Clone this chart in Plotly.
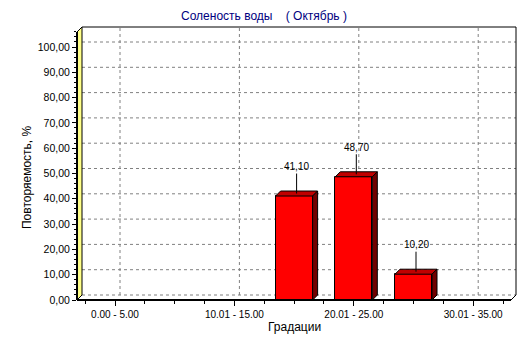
import plotly.graph_objects as go

# ---------------- data ----------------
categories = ["0.00 - 5.00", "5.01 - 10.00", "10.01 - 15.00", "15.01 - 20.00",
              "20.01 - 25.00", "25.01 - 30.00", "30.01 - 35.00"]
values = [0.0, 0.0, 0.0, 41.10, 48.70, 10.20, 0.0]
y_tick_values = [0, 10, 20, 30, 40, 50, 60, 70, 80, 90, 100]
labelled_idx = [0, 2, 4, 6]

title_text = "Соленость воды\u00a0\u00a0\u00a0\u00a0( Октябрь )"
x_title = "Градации"
y_title = "Повторяемость, %"

# ---------------- geometry / style ----------------
W, H = 532, 343
L, R, T, B = 77, 516, 27, 300      # plot area in pixels
DEPTH = 5                           # 3D depth offset in px
CAT0_PX = 115.0                     # pixel x of first category centre
CAT_W = 59.7                        # px per category
Y_PX = 2.53                         # px per y unit
BAR_W = 0.62

x_range = [(L - CAT0_PX) / CAT_W, (R - CAT0_PX) / CAT_W]
y_range = [0, (B - T) / Y_PX]
dx = DEPTH / CAT_W
dy = DEPTH / Y_PX

def pxx(px):
    return (px - L) / (R - L)

def pyy(py):
    return (B - py) / (B - T)

FONT = "Liberation Sans, Arial, sans-serif"
GRID = dict(color="#808080", width=1, dash="3px,3px")

fig = go.Figure()

xs = [i for i, v in enumerate(values) if v > 0]
vs = [v for v in values if v > 0]

fig.add_trace(go.Bar(
    x=xs, y=vs, width=BAR_W,
    marker=dict(color="#FF0000", line=dict(color="black", width=1)),
    hoverinfo="skip", showlegend=False,
))

hw = BAR_W / 2
top_x, top_y, side_x, side_y = [], [], [], []
for xc, v in zip(xs, vs):
    top_x += [xc - hw, xc + hw, xc + hw + dx, xc - hw + dx, xc - hw, None]
    top_y += [v, v, v + dy, v + dy, v, None]
    side_x += [xc + hw, xc + hw + dx, xc + hw + dx, xc + hw, xc + hw, None]
    side_y += [0, dy, v + dy, v, 0, None]

fig.add_trace(go.Scatter(x=top_x, y=top_y, mode="lines", fill="toself",
                         fillcolor="#C00000", line=dict(color="black", width=1),
                         hoverinfo="skip", showlegend=False))
fig.add_trace(go.Scatter(x=side_x, y=side_y, mode="lines", fill="toself",
                         fillcolor="#700000", line=dict(color="black", width=1),
                         hoverinfo="skip", showlegend=False))

shapes = []
# back-wall horizontal gridlines
for v in y_tick_values:
    shapes.append(dict(type="line", layer="below", xref="paper", yref="y",
                       x0=pxx(L + DEPTH), x1=1, y0=v + dy, y1=v + dy, line=GRID))
# back-wall vertical gridlines
for i in labelled_idx:
    shapes.append(dict(type="line", layer="below", xref="x", yref="paper",
                       x0=i + dx, x1=i + dx, y0=pyy(B - DEPTH), y1=1, line=GRID))
# left wall (yellow)
shapes.append(dict(type="path", layer="below", xref="paper", yref="paper",
                   path=f"M {pxx(L)},{pyy(B)} L {pxx(L)},{pyy(T + DEPTH)} "
                        f"L {pxx(L + DEPTH)},{pyy(T)} L {pxx(L + DEPTH)},{pyy(B - DEPTH)} Z",
                   fillcolor="#FFFF88", line=dict(color="black", width=1)))
# back wall top / right border
shapes.append(dict(type="path", layer="below", xref="paper", yref="paper",
                   path=f"M {pxx(L + DEPTH)},{pyy(T)} L {pxx(R)},{pyy(T)} L {pxx(R)},{pyy(B - DEPTH)}",
                   line=dict(color="black", width=1)))
# floor right diagonal
shapes.append(dict(type="line", layer="below", xref="paper", yref="paper",
                   x0=pxx(R - DEPTH), y0=pyy(B), x1=pxx(R), y1=pyy(B - DEPTH),
                   line=dict(color="black", width=1)))
# front axis lines (thick)
shapes.append(dict(type="line", layer="above", xref="paper", yref="paper",
                   x0=pxx(L), y0=pyy(B), x1=pxx(R - DEPTH), y1=pyy(B),
                   line=dict(color="black", width=2)))
shapes.append(dict(type="line", layer="above", xref="paper", yref="paper",
                   x0=pxx(L), y0=pyy(B), x1=pxx(L), y1=pyy(T + DEPTH),
                   line=dict(color="black", width=2)))

annotations = []
for xc, v in zip(xs, vs):
    annotations.append(dict(
        x=xc + dx / 2, y=v + dy / 2, xref="x", yref="y",
        text=f"{v:.2f}".replace(".", ","), showarrow=True, arrowhead=0,
        arrowwidth=1, arrowcolor="black", ax=0, ay=-27, standoff=0,
        font=dict(family=FONT, size=10, color="black")))

annotations.append(dict(x=pxx(264), y=pyy(16), xref="paper", yref="paper",
                        text=title_text, showarrow=False, xanchor="center", yanchor="middle",
                        font=dict(family=FONT, size=12, color="#000080")))
annotations.append(dict(x=pxx(294), y=pyy(327), xref="paper", yref="paper",
                        text=x_title, showarrow=False, xanchor="center", yanchor="middle",
                        font=dict(family=FONT, size=12, color="black")))
annotations.append(dict(x=pxx(27), y=pyy(178), xref="paper", yref="paper",
                        text=y_title, showarrow=False, textangle=-90,
                        xanchor="center", yanchor="middle",
                        font=dict(family=FONT, size=12, color="black")))

fig.update_layout(
    width=W, height=H,
    margin=dict(l=L, r=W - R, t=T, b=H - B, pad=0),
    paper_bgcolor="white", plot_bgcolor="white",
    separators=", ",
    shapes=shapes, annotations=annotations,
    bargap=0, showlegend=False,
    xaxis=dict(range=x_range, showgrid=False, zeroline=False, showline=False,
               tickmode="array", tickvals=labelled_idx,
               ticktext=[categories[i] for i in labelled_idx],
               ticks="outside", ticklen=5, tickcolor="black", tickwidth=1,
               tickfont=dict(family=FONT, size=10, color="black"),
               minor=dict(ticks="outside", tick0=-0.5, dtick=0.5, ticklen=3,
                          tickcolor="black", showgrid=False),
               fixedrange=True),
    yaxis=dict(range=y_range, showgrid=False, zeroline=False, showline=False,
               tickmode="array", tickvals=y_tick_values, tickformat=".2f",
               ticks="outside", ticklen=4, tickcolor="black", tickwidth=1,
               tickfont=dict(family=FONT, size=10.5, color="black"),
               minor=dict(ticks="outside", tick0=0, dtick=2, ticklen=2,
                          tickcolor="black", showgrid=False),
               fixedrange=True),
)

fig.write_html("out.html")
